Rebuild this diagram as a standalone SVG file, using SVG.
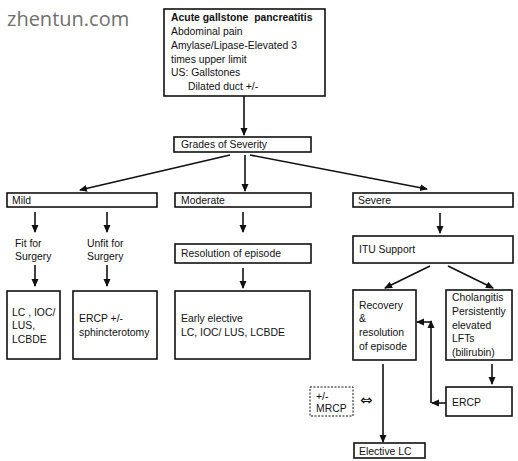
<svg xmlns="http://www.w3.org/2000/svg" width="518" height="461" viewBox="0 0 518 461">
<style>
.b{fill:#fff;stroke:#111;stroke-width:1.6}
.d{fill:#fff;stroke:#111;stroke-width:1;stroke-dasharray:2,1.5}
.t{font-family:"Liberation Sans",Arial,sans-serif;font-size:10.4px;fill:#111}
.bold{font-weight:bold}
.c{fill:none;stroke:#111;stroke-width:1.6}
.wm{font-family:"Open Sans","Noto Sans",sans-serif;font-size:20px;fill:#707070}
.sym{font-family:"DejaVu Sans",sans-serif;font-size:15px;fill:#111}
</style>
<defs>
<marker id="ah" markerWidth="8" markerHeight="8" refX="7" refY="4" orient="auto" markerUnits="userSpaceOnUse">
<path d="M0,0.5 L8,4 L0,7.5 Z" fill="#111"/>
</marker>
</defs>
<rect width="518" height="461" fill="#fff"/>
<text class="wm" x="7" y="26">zhentun.com</text>
<g id="connectors">
<line class="c" x1="244" y1="96" x2="244" y2="135" marker-end="url(#ah)"/>
<line class="c" x1="230" y1="155" x2="80" y2="190" marker-end="url(#ah)"/>
<line class="c" x1="245" y1="155" x2="245" y2="191" marker-end="url(#ah)"/>
<line class="c" x1="250" y1="155" x2="427" y2="189" marker-end="url(#ah)"/>
<line class="c" x1="35" y1="212" x2="35" y2="232" marker-end="url(#ah)"/>
<line class="c" x1="107" y1="212" x2="107" y2="232" marker-end="url(#ah)"/>
<line class="c" x1="35" y1="265" x2="35" y2="286" marker-end="url(#ah)"/>
<line class="c" x1="107" y1="265" x2="107" y2="286" marker-end="url(#ah)"/>
<line class="c" x1="243" y1="212" x2="243" y2="232" marker-end="url(#ah)"/>
<line class="c" x1="243" y1="268" x2="243" y2="288" marker-end="url(#ah)"/>
<line class="c" x1="440" y1="213" x2="440" y2="233" marker-end="url(#ah)"/>
<line class="c" x1="430" y1="266" x2="385" y2="288" marker-end="url(#ah)"/>
<line class="c" x1="448" y1="266" x2="493" y2="288" marker-end="url(#ah)"/>
<line class="c" x1="492" y1="364" x2="492" y2="384" marker-end="url(#ah)"/>
<line class="c" x1="446" y1="403" x2="432" y2="403" marker-end="url(#ah)"/>
<line class="c" x1="431" y1="403" x2="431" y2="321" marker-end="url(#ah)"/>
<line class="c" x1="431" y1="322" x2="417" y2="322" marker-end="url(#ah)"/>
<line class="c" x1="383" y1="364" x2="383" y2="442" marker-end="url(#ah)"/>
<text class="sym" x="360" y="405">⇔</text>
</g>
<g id="n-top">
<rect class="b" x="164" y="9" width="161" height="87"/>
<text class="t bold" x="171" y="21" xml:space="preserve">Acute gallstone  pancreatitis</text>
<text class="t" x="171" y="35">Abdominal pain</text>
<text class="t" x="171" y="49">Amylase/Lipase-Elevated 3</text>
<text class="t" x="171" y="63">times upper limit</text>
<text class="t" x="171" y="76">US: Gallstones</text>
<text class="t" x="188" y="90">Dilated duct +/-</text>
</g>
<g id="n-grades">
<rect class="b" x="174" y="137" width="137" height="15"/>
<text class="t" x="181" y="148">Grades of Severity</text>
</g>
<g id="n-mild">
<rect class="b" x="7" y="193" width="150" height="14"/>
<text class="t" x="12" y="204">Mild</text>
</g>
<g id="n-moderate">
<rect class="b" x="175" y="193" width="136" height="14"/>
<text class="t" x="181" y="204">Moderate</text>
</g>
<g id="n-severe">
<rect class="b" x="353" y="193" width="160" height="14"/>
<text class="t" x="358" y="204">Severe</text>
</g>
<g id="n-fit">
<text class="t" x="15" y="247">Fit for</text>
<text class="t" x="15" y="260">Surgery</text>
</g>
<g id="n-unfit">
<text class="t" x="87" y="247">Unfit for</text>
<text class="t" x="87" y="260">Surgery</text>
</g>
<g id="n-resolution">
<rect class="b" x="175" y="244" width="136" height="19"/>
<text class="t" x="181" y="257">Resolution of episode</text>
</g>
<g id="n-itu">
<rect class="b" x="353" y="236" width="160" height="27"/>
<text class="t" x="359" y="253">ITU Support</text>
</g>
<g id="n-lc">
<rect class="b" x="7" y="291" width="53" height="68"/>
<text class="t" x="12" y="316">LC , IOC/</text>
<text class="t" x="12" y="329">LUS,</text>
<text class="t" x="12" y="343">LCBDE</text>
</g>
<g id="n-ercp1">
<rect class="b" x="73" y="291" width="84" height="68"/>
<text class="t" x="79" y="322">ERCP +/-</text>
<text class="t" x="79" y="336">sphincterotomy</text>
</g>
<g id="n-early">
<rect class="b" x="175" y="291" width="135" height="68"/>
<text class="t" x="181" y="322">Early elective</text>
<text class="t" x="181" y="336">LC, IOC/ LUS, LCBDE</text>
</g>
<g id="n-recovery">
<rect class="b" x="353" y="290" width="63" height="70"/>
<text class="t" x="359" y="309">Recovery</text>
<text class="t" x="359" y="322">&amp;</text>
<text class="t" x="359" y="336">resolution</text>
<text class="t" x="359" y="350">of episode</text>
</g>
<g id="n-cholangitis">
<rect class="b" x="446" y="290" width="66" height="70"/>
<text class="t" x="452" y="301">Cholangitis</text>
<text class="t" x="452" y="315">Persistently</text>
<text class="t" x="452" y="329">elevated</text>
<text class="t" x="452" y="342">LFTs</text>
<text class="t" x="452" y="356">(bilirubin)</text>
</g>
<g id="n-ercp2">
<rect class="b" x="446" y="387" width="66" height="29"/>
<text class="t" x="452" y="406">ERCP</text>
</g>
<g id="n-mrcp">
<rect class="d" x="310" y="387" width="43" height="29"/>
<text class="t" x="316" y="400">+/-</text>
<text class="t" x="316" y="412">MRCP</text>
</g>
<g id="n-elective">
<rect class="b" x="354" y="443" width="71" height="15"/>
<text class="t" x="359" y="455">Elective LC</text>
</g>
</svg>
